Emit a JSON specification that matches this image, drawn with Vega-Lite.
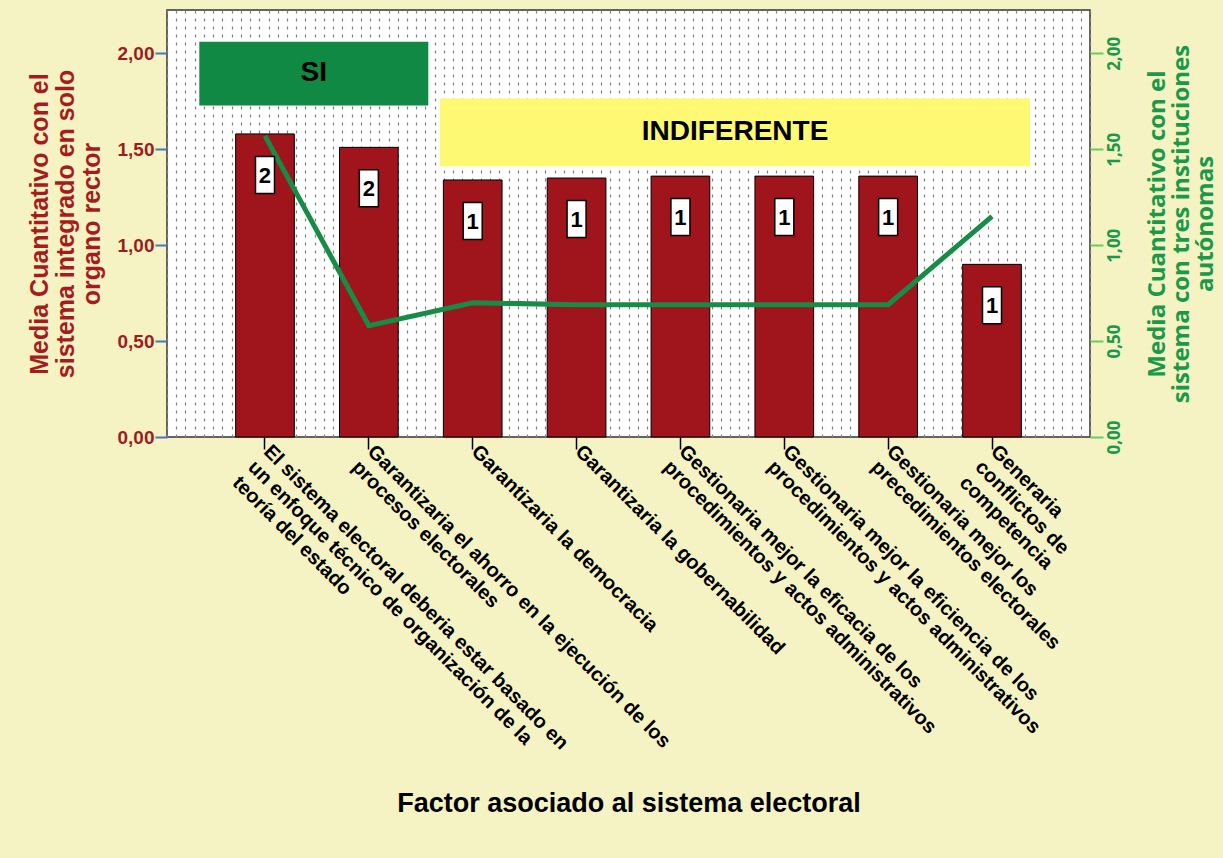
{
  "$schema": "https://vega.github.io/schema/vega-lite/v6.json",
  "width": 923,
  "height": 427,
  "autosize": {"type": "none"},
  "padding": {"left": 167, "top": 10, "right": 133, "bottom": 421},
  "background": "#f5f3c4",
  "view": {"fill": "#ffffff", "stroke": "#333333", "strokeWidth": 1.5},
  "config": {"axis": {"grid": false, "domain": false}},
  "datasets": {
    "factores": [
      {"factor": "El sistema electoral deberia estar basado en\nun enfoque técnico de organización de la\nteoría del estado", "media1": 1.58, "media2": 1.57, "n": 2},
      {"factor": "Garantizaria el ahorro en la ejecución de los\nprocesos electorales", "media1": 1.51, "media2": 0.58, "n": 2},
      {"factor": "Garantizaria la democracia", "media1": 1.34, "media2": 0.70, "n": 1},
      {"factor": "Garantizaria la gobernabilidad", "media1": 1.35, "media2": 0.69, "n": 1},
      {"factor": "Gestionaria mejor la eficacia de los\nprocedimientos y actos administrativos", "media1": 1.36, "media2": 0.69, "n": 1},
      {"factor": "Gestionaria mejor la eficiencia de los\nprocedimientos y actos administrativos", "media1": 1.36, "media2": 0.69, "n": 1},
      {"factor": "Gestionaria mejor los\nprecedimientos electorales", "media1": 1.36, "media2": 0.69, "n": 1},
      {"factor": "Generaria\nconflictos de\ncompetencia", "media1": 0.90, "media2": 1.15, "n": 1}
    ],
    "bloques": [
      {"grupo": "SI", "inicio": 3.5, "fin": 28.31, "techo": 2.061, "base": 1.728, "centro": 15.9, "medio": 1.895},
      {"grupo": "INDIFERENTE", "inicio": 29.58, "fin": 93.5, "techo": 1.765, "base": 1.412, "centro": 61.54, "medio": 1.589}
    ]
  },
  "data": {"name": "factores"},
  "resolve": {"scale": {"x": "independent", "y": "independent"}},
  "layer": [
    {
      "data": {"name": "bloques"},
      "mark": {"type": "rect"},
      "encoding": {
        "x": {
          "field": "inicio", "type": "quantitative",
          "scale": {"domain": [0, 100], "nice": false, "zero": false},
          "axis": {"orient": "top", "grid": true, "gridColor": "#808080", "gridDash": [3, 5], "gridWidth": 1.2, "tickCount": 100, "labels": false, "ticks": false, "domain": false, "title": null}
        },
        "x2": {"field": "fin"},
        "y": {"field": "techo", "type": "quantitative", "scale": {"domain": [0, 2.226], "nice": false}, "axis": null},
        "y2": {"field": "base"},
        "color": {"field": "grupo", "type": "nominal", "scale": {"domain": ["SI", "INDIFERENTE"], "range": ["#108945", "#fdf972"]}, "legend": null}
      }
    },
    {
      "data": {"name": "bloques"},
      "mark": {"type": "text", "font": "Liberation Sans", "fontSize": 28, "fontWeight": "bold", "color": "#000000", "baseline": "middle", "align": "center"},
      "encoding": {
        "x": {"field": "centro", "type": "quantitative", "scale": {"domain": [0, 100], "nice": false, "zero": false}, "axis": null},
        "y": {"field": "medio", "type": "quantitative", "scale": {"domain": [0, 2.226], "nice": false}, "axis": null},
        "text": {"field": "grupo"}
      }
    },
    {
      "mark": {"type": "bar", "color": "#9f151b", "stroke": "#000000", "strokeWidth": 1},
      "encoding": {
        "x": {
          "field": "factor", "type": "nominal", "sort": null,
          "scale": {"type": "band", "paddingInner": 0.435, "paddingOuter": 0.661},
          "axis": {
            "orient": "bottom",
            "labelAngle": 45, "labelAlign": "left", "labelBaseline": "top",
            "labelExpr": "split(datum.label, '\\n')",
            "labelFont": "Liberation Sans", "labelFontWeight": "bold", "labelFontSize": 20,
            "labelColor": "#000000", "labelLineHeight": 22, "labelLimit": 0,
            "labelPadding": -8, "labelOffset": 9, "labelOverlap": false,
            "ticks": true, "tickSize": 12, "tickColor": "#000000", "tickWidth": 1.5,
            "title": "Factor asociado al sistema electoral",
            "titleFont": "Liberation Sans", "titleFontSize": 27, "titleFontWeight": "bold", "titleColor": "#000000",
            "titleY": 366, "titleBaseline": "middle"
          }
        },
        "y": {
          "field": "media1", "type": "quantitative",
          "scale": {"domain": [0, 2.226], "nice": false},
          "axis": {
            "orient": "left", "values": [0, 0.5, 1, 1.5, 2],
            "labelExpr": "replace(format(datum.value, '.2f'), '.', ',')",
            "labelFont": "Liberation Sans", "labelFontWeight": "bold", "labelFontSize": 19, "labelColor": "#a01c1c",
            "labelPadding": 1,
            "tickColor": "#4a72c8", "tickSize": 12, "tickWidth": 2,
            "title": ["Media Cuantitativo con el", "sistema integrado en solo", "organo rector"],
            "titleFont": "Liberation Sans", "titleFontSize": 25, "titleFontWeight": "bold", "titleColor": "#a61c1c",
            "titleAngle": -90, "titleX": -128, "titleY": 213.5, "titleAlign": "center", "titleBaseline": "middle", "titleLineHeight": 26
          }
        }
      }
    },
    {
      "mark": {"type": "line", "color": "#168c46", "strokeWidth": 5},
      "encoding": {
        "x": {"field": "factor", "type": "nominal", "sort": null, "scale": {"type": "point", "padding": 0.9435}, "axis": null},
        "y": {
          "field": "media2", "type": "quantitative",
          "scale": {"domain": [0, 2.226], "nice": false},
          "axis": {
            "orient": "right", "values": [0, 0.5, 1, 1.5, 2],
            "labelExpr": "replace(format(datum.value, '.2f'), '.', ',')",
            "labelFont": "Open Sans", "labelFontWeight": "bold", "labelFontSize": 17, "labelColor": "#1a9a48",
            "labelAngle": -90, "labelAlign": "center", "labelBaseline": "top", "labelPadding": 3,
            "tickColor": "#66cc66", "tickSize": 13, "tickWidth": 2,
            "title": ["Media Cuantitativo con el", "sistema con tres instituciones", "autónomas"],
            "titleFont": "Open Sans", "titleFontSize": 24, "titleFontWeight": "bold", "titleColor": "#1a9a48",
            "titleAngle": -90, "titleX": 67, "titleY": 213.5, "titleAlign": "center", "titleBaseline": "middle", "titleLineHeight": 24
          }
        }
      }
    },
    {
      "mark": {"type": "point", "shape": "M-0.514,-1H0.514V1H-0.514Z", "size": 1369, "filled": true, "fill": "#ffffff", "stroke": "#000000", "strokeWidth": 1.5, "opacity": 1, "yOffset": 41},
      "encoding": {
        "x": {"field": "factor", "type": "nominal", "sort": null, "scale": {"type": "point", "padding": 0.9435}, "axis": null},
        "y": {"field": "media1", "type": "quantitative", "scale": {"domain": [0, 2.226], "nice": false}, "axis": null}
      }
    },
    {
      "mark": {"type": "text", "font": "Liberation Sans", "fontSize": 22, "fontWeight": "bold", "color": "#000000", "baseline": "middle", "align": "center", "yOffset": 42},
      "encoding": {
        "x": {"field": "factor", "type": "nominal", "sort": null, "scale": {"type": "point", "padding": 0.9435}, "axis": null},
        "y": {"field": "media1", "type": "quantitative", "scale": {"domain": [0, 2.226], "nice": false}, "axis": null},
        "text": {"field": "n"}
      }
    }
  ]
}
